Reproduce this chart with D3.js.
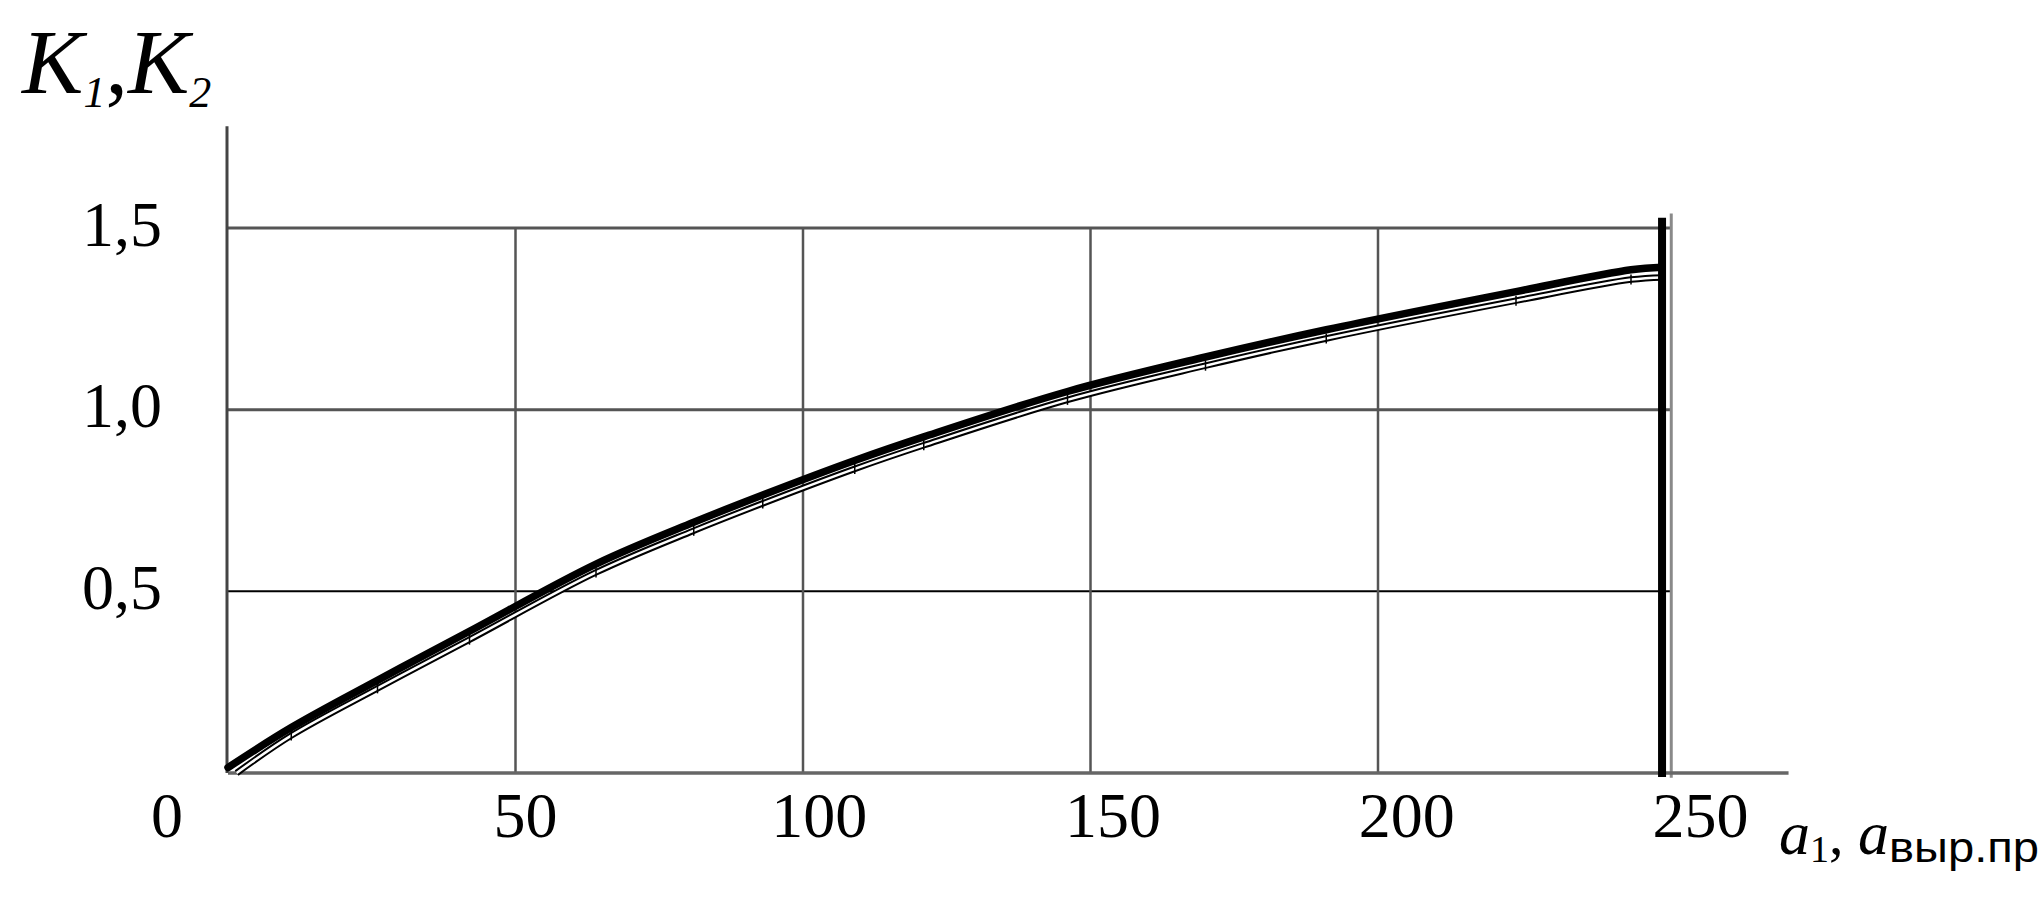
<!DOCTYPE html>
<html>
<head>
<meta charset="utf-8">
<script src="https://cdn.jsdelivr.net/npm/d3@7"></script>
<style>
  html, body { margin: 0; padding: 0; background: #fff; }
  svg { display: block; }
</style>
</head>
<body>
<svg id="chart" width="2044" height="921"></svg>
<script>
// ---- data ----
const xNodes   = [0, 11, 26, 42, 64, 81, 93, 109, 121, 146, 170, 191, 224, 244, 249.4];
const k1Values = [0.015, 0.125, 0.255, 0.39, 0.575, 0.69, 0.765, 0.86, 0.925, 1.05, 1.145, 1.22, 1.325, 1.385, 1.392];
const k2Nodes  = [1.5, 11, 26, 42, 64, 81, 93, 109, 121, 146, 170, 191, 224, 244, 249.4];
const k2Values = [0.0, 0.103, 0.233, 0.367, 0.552, 0.667, 0.742, 0.837, 0.902, 1.027, 1.121, 1.196, 1.300, 1.358, 1.364];
const xTicks = [50, 100, 150, 200, 250];
const yTicks = [0.5, 1.0, 1.5];
const yTickLabels = ["0,5", "1,0", "1,5"];
const xGrid = [50, 100, 150, 200];
const cutoff = 249.4;

const svg = d3.select("#chart");
const x = d3.scaleLinear().domain([0, 250]).range([228, 1665.5]);
const y = d3.scaleLinear().domain([0, 1.5]).range([773, 228]);
// label placement scale (labels in the source sit slightly right of their gridlines)
const xLabel = d3.scaleLinear().domain([50, 250]).range([525, 1700]);

const serif = "'Liberation Serif', 'Times New Roman', serif";

// ---- grid ----
const grid = svg.append("g");
grid.selectAll("line.h").data(yTicks).enter().append("line")
  .attr("x1", x(0)).attr("x2", x(251))
  .attr("y1", d => y(d)).attr("y2", d => y(d))
  .attr("stroke", d => d === 0.5 ? "#000" : "#555")
  .attr("stroke-width", d => d === 0.5 ? 2 : 3);
grid.selectAll("line.v").data(xGrid).enter().append("line")
  .attr("x1", d => x(d)).attr("x2", d => x(d))
  .attr("y1", y(1.5)).attr("y2", y(0))
  .attr("stroke", "#555").attr("stroke-width", 2.5);
// right border (gray)
grid.append("line")
  .attr("x1", x(251)).attr("x2", x(251))
  .attr("y1", y(1.54)).attr("y2", y(-0.013))
  .attr("stroke", "#8a8a8a").attr("stroke-width", 3);

// ---- axes ----
svg.append("line")
  .attr("x1", x(0)).attr("x2", x(271.4))
  .attr("y1", y(0)).attr("y2", y(0))
  .attr("stroke", "#666").attr("stroke-width", 3.5);
svg.append("line")
  .attr("x1", x(0) - 1).attr("x2", x(0) - 1)
  .attr("y1", y(1.78)).attr("y2", y(0))
  .attr("stroke", "#444").attr("stroke-width", 3);

// x tick labels through d3 axis
const xAxis = d3.axisBottom(x).tickValues(xTicks).tickSize(0).tickFormat(d3.format("d"));
const gx = svg.append("g").attr("transform", `translate(0,${y(0)})`).call(xAxis);
gx.select(".domain").remove();
gx.selectAll("text")
  .attr("font-family", serif).attr("font-size", 64).attr("fill", "#000")
  .attr("dy", null).attr("y", 64)
  .attr("x", d => xLabel(d) - x(d));
// origin label
svg.append("text").attr("x", 167).attr("y", y(0) + 64)
  .attr("text-anchor", "middle")
  .attr("font-family", serif).attr("font-size", 64).text("0");

// y tick labels
const yAxis = d3.axisLeft(y).tickValues(yTicks).tickSize(0)
  .tickFormat((d, i) => yTickLabels[i]);
const gy = svg.append("g").attr("transform", `translate(${x(0)},0)`).call(yAxis);
gy.select(".domain").remove();
gy.selectAll("text")
  .attr("font-family", serif).attr("font-size", 64).attr("fill", "#000")
  .attr("x", -66).attr("dy", 17);

// ---- curves ----
const k1 = xNodes.map((v, i) => [v, k1Values[i]]);
const k2 = k2Nodes.map((v, i) => [v, k2Values[i]]);
const line = d3.line().x(d => x(d[0])).y(d => y(d[1])).curve(d3.curveCatmullRom.alpha(0.5));

// K2: hollow (double) line
svg.append("path").attr("d", line(k2)).attr("fill", "none")
  .attr("stroke", "#000").attr("stroke-width", 6.5).attr("stroke-linejoin", "round");
svg.append("path").attr("d", line(k2)).attr("fill", "none")
  .attr("stroke", "#fff").attr("stroke-width", 2.5).attr("stroke-linejoin", "round");
// node ticks on K2
svg.selectAll("line.node").data(k2.slice(1, -1)).enter().append("line")
  .attr("x1", d => x(d[0])).attr("x2", d => x(d[0]))
  .attr("y1", d => y(d[1]) - 5).attr("y2", d => y(d[1]) + 5)
  .attr("stroke", "#000").attr("stroke-width", 1.5);

// K1: thick black line
svg.append("path").attr("d", line(k1)).attr("fill", "none")
  .attr("stroke", "#000").attr("stroke-width", 7.5)
  .attr("stroke-linejoin", "round").attr("stroke-linecap", "round");

// vertical boundary at cutoff
svg.append("line")
  .attr("x1", x(cutoff)).attr("x2", x(cutoff))
  .attr("y1", y(1.528)).attr("y2", y(-0.011))
  .attr("stroke", "#000").attr("stroke-width", 8);

// ---- axis titles ----
const yt = svg.append("text").attr("font-family", serif).attr("font-style", "italic");
yt.append("tspan").attr("x", 22).attr("y", 93).attr("font-size", 92).text("K");
yt.append("tspan").attr("dy", 14).attr("font-size", 44).text("1");
yt.append("tspan").attr("dy", -14).attr("font-size", 90).attr("font-style", "normal").text(",");
yt.append("tspan").attr("font-size", 92).text("K");
yt.append("tspan").attr("dy", 14).attr("font-size", 44).text("2");

const xt = svg.append("text").attr("font-family", serif);
xt.append("tspan").attr("x", 1779).attr("y", 854).attr("font-size", 62).attr("font-style", "italic").text("a");
xt.append("tspan").attr("dy", 8).attr("font-size", 38).text("1");
xt.append("tspan").attr("dy", -8).attr("font-size", 58).text(", ");
xt.append("tspan").attr("font-size", 62).attr("font-style", "italic").text("a");
xt.append("tspan").attr("dy", 8).attr("font-size", 42)
  .attr("font-family", "'Liberation Sans Narrow', 'Liberation Sans', Arial, sans-serif")
  .attr("textLength", 150).attr("lengthAdjust", "spacingAndGlyphs")
  .text("выр.пр");
</script>
</body>
</html>
